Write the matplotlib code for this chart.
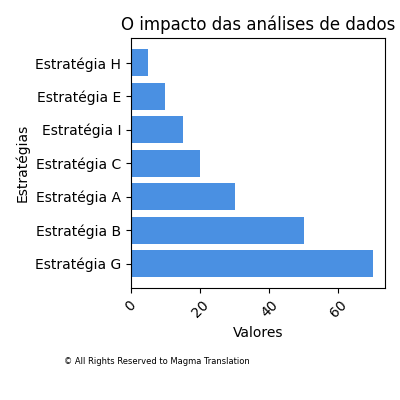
import matplotlib
matplotlib.use("Agg")
import matplotlib.pyplot as plt

categories = ["Estratégia G", "Estratégia B", "Estratégia A", "Estratégia C",
              "Estratégia I", "Estratégia E", "Estratégia H"]
values = [70, 50, 30, 20, 15, 10, 5]

fig = plt.figure(figsize=(4, 4), dpi=100)
ax = fig.add_axes([0.327, 0.279, 0.636, 0.626])
ax.barh(categories, values, color="#4a90e2")
ax.set_title("O impacto das análises de dados", fontsize=12)
ax.set_xlabel("Valores", fontsize=10)
ax.set_ylabel("Estratégias", fontsize=10)
ax.set_xticks([0, 20, 40, 60])
plt.setp(ax.get_xticklabels(), rotation=45)
fig.text(0.16, 0.09, "© All Rights Reserved to Magma Translation", fontsize=6)
fig.savefig("out.png", dpi=100)
